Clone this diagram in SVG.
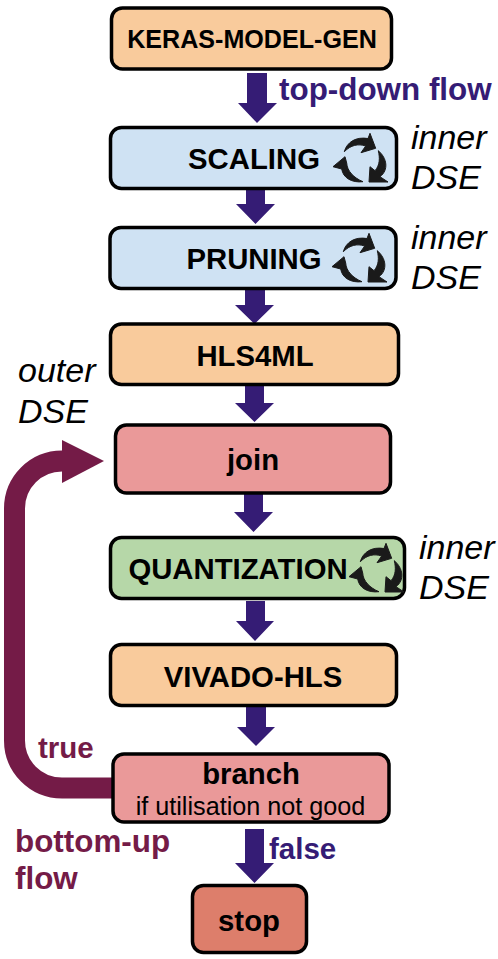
<svg xmlns="http://www.w3.org/2000/svg" width="498" height="959" viewBox="0 0 498 959">
<style>
.b{stroke:#000;stroke-width:3.5}
.o{fill:#f9cb9c}.l{fill:#cfe2f3}.r{fill:#ea9999}.g{fill:#b6d7a8}.s{fill:#dd7e6b}
text{font-family:"Liberation Sans",Arial,sans-serif;fill:#000}
.t{font-weight:bold;font-size:29.300px;text-anchor:middle}
.k{font-size:25.100px}
.i{font-style:italic;font-size:34px}
.p{font-weight:bold;font-size:31.400px;fill:#351c75}
.m{font-weight:bold;font-size:31.400px;fill:#741b47}
.n{font-size:29.500px}
.a{fill:#351c75}
.ic{fill:#1a1a1a;stroke:#1a1a1a;stroke-width:1;stroke-linejoin:round}
</style>
<defs>
<g id="cyc" class="ic">
<path d="M19.300 21.700C22 12 31 6.500 43 8.500L45 3.300L50.700 18.300L36 22.700L40.700 16C33 13.500 26 15 19.300 21.700Z"/>
<path d="M53.300 20.700C62 28 64 40 55 46.700L63 52L44 52L45 36.700L50 40.700C55 35 55 28 53.300 20.700Z"/>
<path d="M8 36.700L20 26.700L21.700 33C22 41 29 48 38 51.700C27 53 18 48 16.700 39Z"/>
</g>
</defs>
<g id="connectors">
<path d="M113 788H62A47.500 47.500 0 0 1 14.500 740.500V508.500A47.500 47.500 0 0 1 62 461" fill="none" stroke="#741b47" stroke-width="21"/>
<path d="M62 440L104 461L62 483Z" fill="#741b47"/>
<path class="a" d="M247 73H267V103H277L257 123L238 103H247Z"/>
<path class="a" d="M246 189H265V204H275L255.500 224L236 204H246Z"/>
<path class="a" d="M245 289H265V305H274L254.500 324L235 305H245Z"/>
<path class="a" d="M245 383H264V403H274L254.500 422L235 403H245Z"/>
<path class="a" d="M244 492H263V512H273L253.500 532L234 512H244Z"/>
<path class="a" d="M246 601H265V621H274L255 641L236 621H246Z"/>
<path class="a" d="M246 707H266V727H275L256 746L237 727H246Z"/>
<path class="a" d="M245 829H264V863H274L254.500 883L235 863H245Z"/>
</g>
<g id="keras"><rect class="b o" x="111.500" y="8" width="280" height="61" rx="11"/><text class="t k" x="252" y="47.500">KERAS-MODEL-GEN</text></g>
<g id="scaling"><rect class="b l" x="110.500" y="127.500" width="286" height="61" rx="11"/><text class="t" x="254" y="169">SCALING</text><use href="#cyc" x="325" y="130"/></g>
<g id="pruning"><rect class="b l" x="110" y="227.500" width="286" height="61" rx="11"/><text class="t" x="254" y="269">PRUNING</text><use href="#cyc" x="324" y="230"/></g>
<g id="hls4ml"><rect class="b o" x="110.500" y="324" width="288" height="60.500" rx="11"/><text class="t" x="255" y="366">HLS4ML</text></g>
<g id="join"><rect class="b r" x="115.500" y="425" width="275" height="68" rx="11"/><text class="t" x="253" y="470">join</text></g>
<g id="quantization"><rect class="b g" x="110.500" y="537.500" width="294" height="61" rx="11"/><text class="t" x="238" y="579">QUANTIZATION</text><use href="#cyc" x="341" y="540"/></g>
<g id="vivado"><rect class="b o" x="110.500" y="644.500" width="286" height="61" rx="11"/><text class="t" x="253" y="687">VIVADO-HLS</text></g>
<g id="branch"><rect class="b r" x="113" y="754" width="276" height="68" rx="11"/><text class="t" x="251" y="784">branch</text><text x="250.500" y="815" text-anchor="middle" style="font-size:25.200px">if utilisation not good</text></g>
<g id="stop"><rect class="b s" x="192.500" y="885.500" width="114" height="67" rx="11"/><text class="t" x="249" y="931">stop</text></g>
<g id="labels">
<text class="p" x="279" y="99.500">top-down flow</text>
<text class="i" x="411" y="149">inner</text><text class="i" x="411" y="189">DSE</text>
<text class="i" x="411" y="249">inner</text><text class="i" x="411" y="289">DSE</text>
<text class="i" x="18" y="382">outer</text><text class="i" x="18" y="422.500">DSE</text>
<text class="i" x="419" y="559">inner</text><text class="i" x="419" y="599">DSE</text>
<text class="m n" x="38" y="758">true</text>
<text class="m" x="15" y="852">bottom-up</text>
<text class="m" x="15" y="889">flow</text>
<text class="p n" x="269" y="859">false</text>
</g>
</svg>
